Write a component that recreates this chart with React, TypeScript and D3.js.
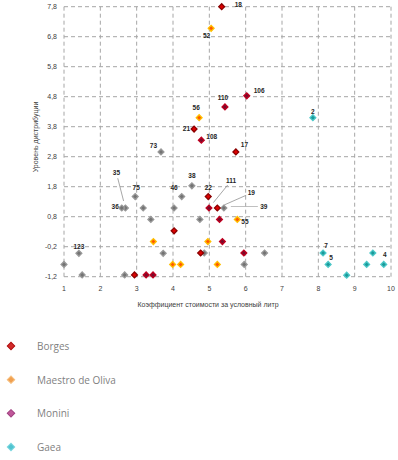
import { useRef, useEffect } from 'react';
import * as d3 from 'd3';

// Series: x = cost coefficient, y = distribution level, label (empty = none)
const borgesX = [5.34, 4.58, 5.73, 4.97, 5.22, 4.03, 4.76, 2.94];
const borgesY = [7.8, 3.72, 2.96, 1.47, 1.09, 0.33, -0.41, -1.14];
const borgesL = ['18', '21', '17', '22', '19', '', '', ''];

const maestroX = [5.05, 4.72, 5.77, 3.46, 4.96, 3.99, 4.21, 5.22];
const maestroY = [7.08, 4.1, 0.71, -0.03, -0.03, -0.79, -0.79, -0.79];
const maestroL = ['52', '56', '55', '', '', '', '', ''];

const moniniX = [6.03, 5.43, 4.78, 4.99, 5.28, 5.36, 5.95, 3.26, 3.45];
const moniniY = [4.83, 4.46, 3.35, 1.09, 0.71, -0.03, -0.41, -1.14, -1.14];
const moniniL = ['106', '110', '108', '111', '', '', '', '', ''];

const gaeaX = [7.85, 8.13, 8.27, 8.78, 9.33, 9.5, 9.8];
const gaeaY = [4.1, -0.41, -0.79, -1.15, -0.79, -0.41, -0.79];
const gaeaL = ['2', '7', '5', '', '', '', '4'];

const otherX = [3.67, 2.69, 2.59, 2.96, 3.18, 3.39, 4.03, 4.24, 4.52, 4.74, 5.4, 4.86, 6.52, 5.96, 3.73, 2.67, 1.0, 1.41, 1.5];
const otherY = [2.96, 1.09, 1.09, 1.47, 1.09, 0.71, 1.09, 1.47, 1.83, 0.71, 1.09, -0.41, -0.41, -0.79, -0.42, -1.14, -0.79, -0.42, -1.14];
const otherL = ['73', '35', '36', '75', '', '', '46', '', '38', '', '39', '', '', '', '', '', '', '123', ''];

const xTicks = [1, 2, 3, 4, 5, 6, 7, 8, 9, 10];
const yTicks = [-1.2, -0.2, 0.8, 1.8, 2.8, 3.8, 4.8, 5.8, 6.8, 7.8];

const legendNames = ['Borges', 'Maestro de Oliva', 'Monini', 'Gaea'];

// label placement relative to its point
const labelPos: Record<string, { dx: number; dy: number; anchor?: string; leader?: boolean }> = {
  '18': { dx: 13, dy: 0, anchor: 'start' },
  '52': { dx: -1, dy: 10, anchor: 'end' },
  '106': { dx: 7, dy: -3, anchor: 'start' },
  '110': { dx: -2, dy: -7, anchor: 'middle' },
  '56': { dx: -3, dy: -8, anchor: 'middle' },
  '21': { dx: -4, dy: 2, anchor: 'end' },
  '108': { dx: 5, dy: -1, anchor: 'start' },
  '17': { dx: 5, dy: -5, anchor: 'start' },
  '2': { dx: 0, dy: -4, anchor: 'middle' },
  '73': { dx: -4, dy: -4, anchor: 'end' },
  '36': { dx: -3, dy: 1, anchor: 'end' },
  '75': { dx: 1, dy: -7, anchor: 'middle' },
  '46': { dx: 0, dy: -18, anchor: 'middle' },
  '38': { dx: 0, dy: -8, anchor: 'middle' },
  '22': { dx: 0, dy: -7, anchor: 'middle' },
  '55': { dx: 4, dy: 5, anchor: 'start' },
  '7': { dx: 3, dy: -5, anchor: 'middle' },
  '5': { dx: 3, dy: -4, anchor: 'middle' },
  '4': { dx: 1, dy: -7, anchor: 'middle' },
  '123': { dx: 0, dy: -4, anchor: 'middle' },
  '35': { dx: -9, dy: -35, anchor: 'middle', leader: true },
  '111': { dx: 22, dy: -27, anchor: 'middle', leader: true },
  '19': { dx: 34, dy: -15, anchor: 'middle', leader: true },
  '39': { dx: 40, dy: -1, anchor: 'middle', leader: true },
};

export default function App() {
  const svgRef = useRef<SVGSVGElement>(null);
  const width = 398;
  const height = 460;

  useEffect(() => {
    const svg = d3.select(svgRef.current);
    if (svg.empty()) return;
    svg.selectAll('*').remove();

    const x = d3.scaleLinear().domain([1, 10]).range([64, 391]);
    const y = d3.scaleLinear().domain([-1.2, 7.8]).range([276.7, 6.7]);
    const fmt = (v: number) => d3.format('.1f')(v).replace('.', ',').replace('−', '-');

    const g = svg.append('g');

    // Gridlines (all dashed)
    g.selectAll('.vgrid')
      .data(xTicks)
      .enter()
      .append('line')
      .attr('x1', d => x(d))
      .attr('x2', d => x(d))
      .attr('y1', y(7.8))
      .attr('y2', y(-1.2))
      .attr('stroke', '#a6a6a6')
      .attr('stroke-width', 1)
      .attr('stroke-dasharray', '4,3');
    g.selectAll('.hgrid')
      .data(yTicks)
      .enter()
      .append('line')
      .attr('x1', x(1))
      .attr('x2', x(10))
      .attr('y1', d => y(d))
      .attr('y2', d => y(d))
      .attr('stroke', '#a6a6a6')
      .attr('stroke-width', 1)
      .attr('stroke-dasharray', '4,3');

    // Tick labels
    g.selectAll('.ytick')
      .data(yTicks)
      .enter()
      .append('text')
      .attr('x', 57)
      .attr('y', d => y(d) + 2.5)
      .attr('text-anchor', 'end')
      .attr('font-size', '7px')
      .attr('font-family', 'Liberation Sans, Arial, sans-serif')
      .attr('fill', '#404040')
      .text(d => fmt(d));
    g.selectAll('.xtick')
      .data(xTicks)
      .enter()
      .append('text')
      .attr('x', d => x(d))
      .attr('y', 291)
      .attr('text-anchor', 'middle')
      .attr('font-size', '7px')
      .attr('font-family', 'Liberation Sans, Arial, sans-serif')
      .attr('fill', '#404040')
      .text(d => String(d));

    // Axis titles
    g.append('text')
      .attr('x', 208)
      .attr('y', 307)
      .attr('text-anchor', 'middle')
      .attr('font-size', '7px')
      .attr('font-family', 'Liberation Sans, Arial, sans-serif')
      .attr('fill', '#404040')
      .text('Коэффициент  стоимости  за  условный  литр');
    g.append('text')
      .attr('transform', 'rotate(-90)')
      .attr('x', -137)
      .attr('y', 38)
      .attr('text-anchor', 'middle')
      .attr('font-size', '7px')
      .attr('font-family', 'Liberation Sans, Arial, sans-serif')
      .attr('fill', '#404040')
      .text('Уровень  дистрибуции');

    const diamond = d3.symbol().type(d3.symbolSquare).size(17);

    const series = [
      { xs: otherX, ys: otherY, ls: otherL, fill: '#737373', stroke: '#999999' },
      { xs: maestroX, ys: maestroY, ls: maestroL, fill: '#ff5a00', stroke: '#ffc000' },
      { xs: moniniX, ys: moniniY, ls: moniniL, fill: '#7a0a2a', stroke: '#c00020' },
      { xs: borgesX, ys: borgesY, ls: borgesL, fill: '#e00000', stroke: '#8b0000' },
      { xs: gaeaX, ys: gaeaY, ls: gaeaL, fill: '#1a9a9a', stroke: '#4cc8c8' },
    ];

    const labels = g.append('g');
    series.forEach(s => {
      const pts = s.xs.map((v, i) => ({ x: v, y: s.ys[i], l: s.ls[i] }));
      g.selectAll(null)
        .data(pts)
        .enter()
        .append('path')
        .attr('d', diamond as any)
        .attr('transform', d => `translate(${x(d.x)},${y(d.y)}) rotate(45)`)
        .attr('fill', s.fill)
        .attr('stroke', s.stroke)
        .attr('stroke-width', 1.3);

      pts.filter(d => d.l).forEach(d => {
        const p = labelPos[d.l] || { dx: 0, dy: -6, anchor: 'middle' };
        const px = x(d.x);
        const py = y(d.y);
        if (p.leader) {
          if (d.l === '39') {
            labels.append('line')
              .attr('x1', px + 7).attr('y1', py - 1.5)
              .attr('x2', px + p.dx - 6).attr('y2', py - 1.5)
              .attr('stroke', '#b0b0b0').attr('stroke-width', 0.8);
          } else {
            labels.append('line')
              .attr('x1', px + p.dx * 0.2).attr('y1', py + p.dy * 0.2)
              .attr('x2', px + p.dx * 0.85).attr('y2', py + p.dy * 0.85)
              .attr('stroke', '#909090').attr('stroke-width', 0.8);
          }
        }
        labels.append('text')
          .attr('x', px + p.dx)
          .attr('y', py + p.dy + (p.leader ? 2 : 0))
          .attr('text-anchor', p.anchor || 'middle')
          .attr('font-size', '6.5px')
          .attr('font-weight', 'bold')
          .attr('font-family', 'Liberation Sans, Arial, sans-serif')
          .attr('fill', '#262626')
          .text(d.l);
      });
    });

    // Legend
    const legendFill = ['#d22a2a', '#f0a050', '#c0589a', '#50c4d0'];
    const legendStroke = ['#b01010', '#f7c080', '#a04080', '#80d8e0'];
    const legendY = d3.scalePoint<string>().domain(legendNames).range([346, 447]);
    const lg = svg.append('g');
    legendNames.forEach((n, i) => {
      lg.append('path')
        .attr('d', d3.symbol().type(d3.symbolSquare).size(28) as any)
        .attr('transform', `translate(11,${legendY(n)}) rotate(45)`)
        .attr('fill', legendFill[i])
        .attr('stroke', legendStroke[i])
        .attr('stroke-width', 1);
      lg.append('text')
        .attr('x', 37)
        .attr('y', (legendY(n) as number) + 4)
        .attr('font-size', '10px')
        .attr('font-family', 'Open Sans, Liberation Sans, sans-serif')
        .attr('fill', '#7f7f7f')
        .text(n);
    });
  }, []);

  return (
    <svg
      ref={svgRef}
      width={width}
      height={height}
      style={{ position: 'absolute', left: 0, top: 0, background: '#fff' }}
    />
  );
}
